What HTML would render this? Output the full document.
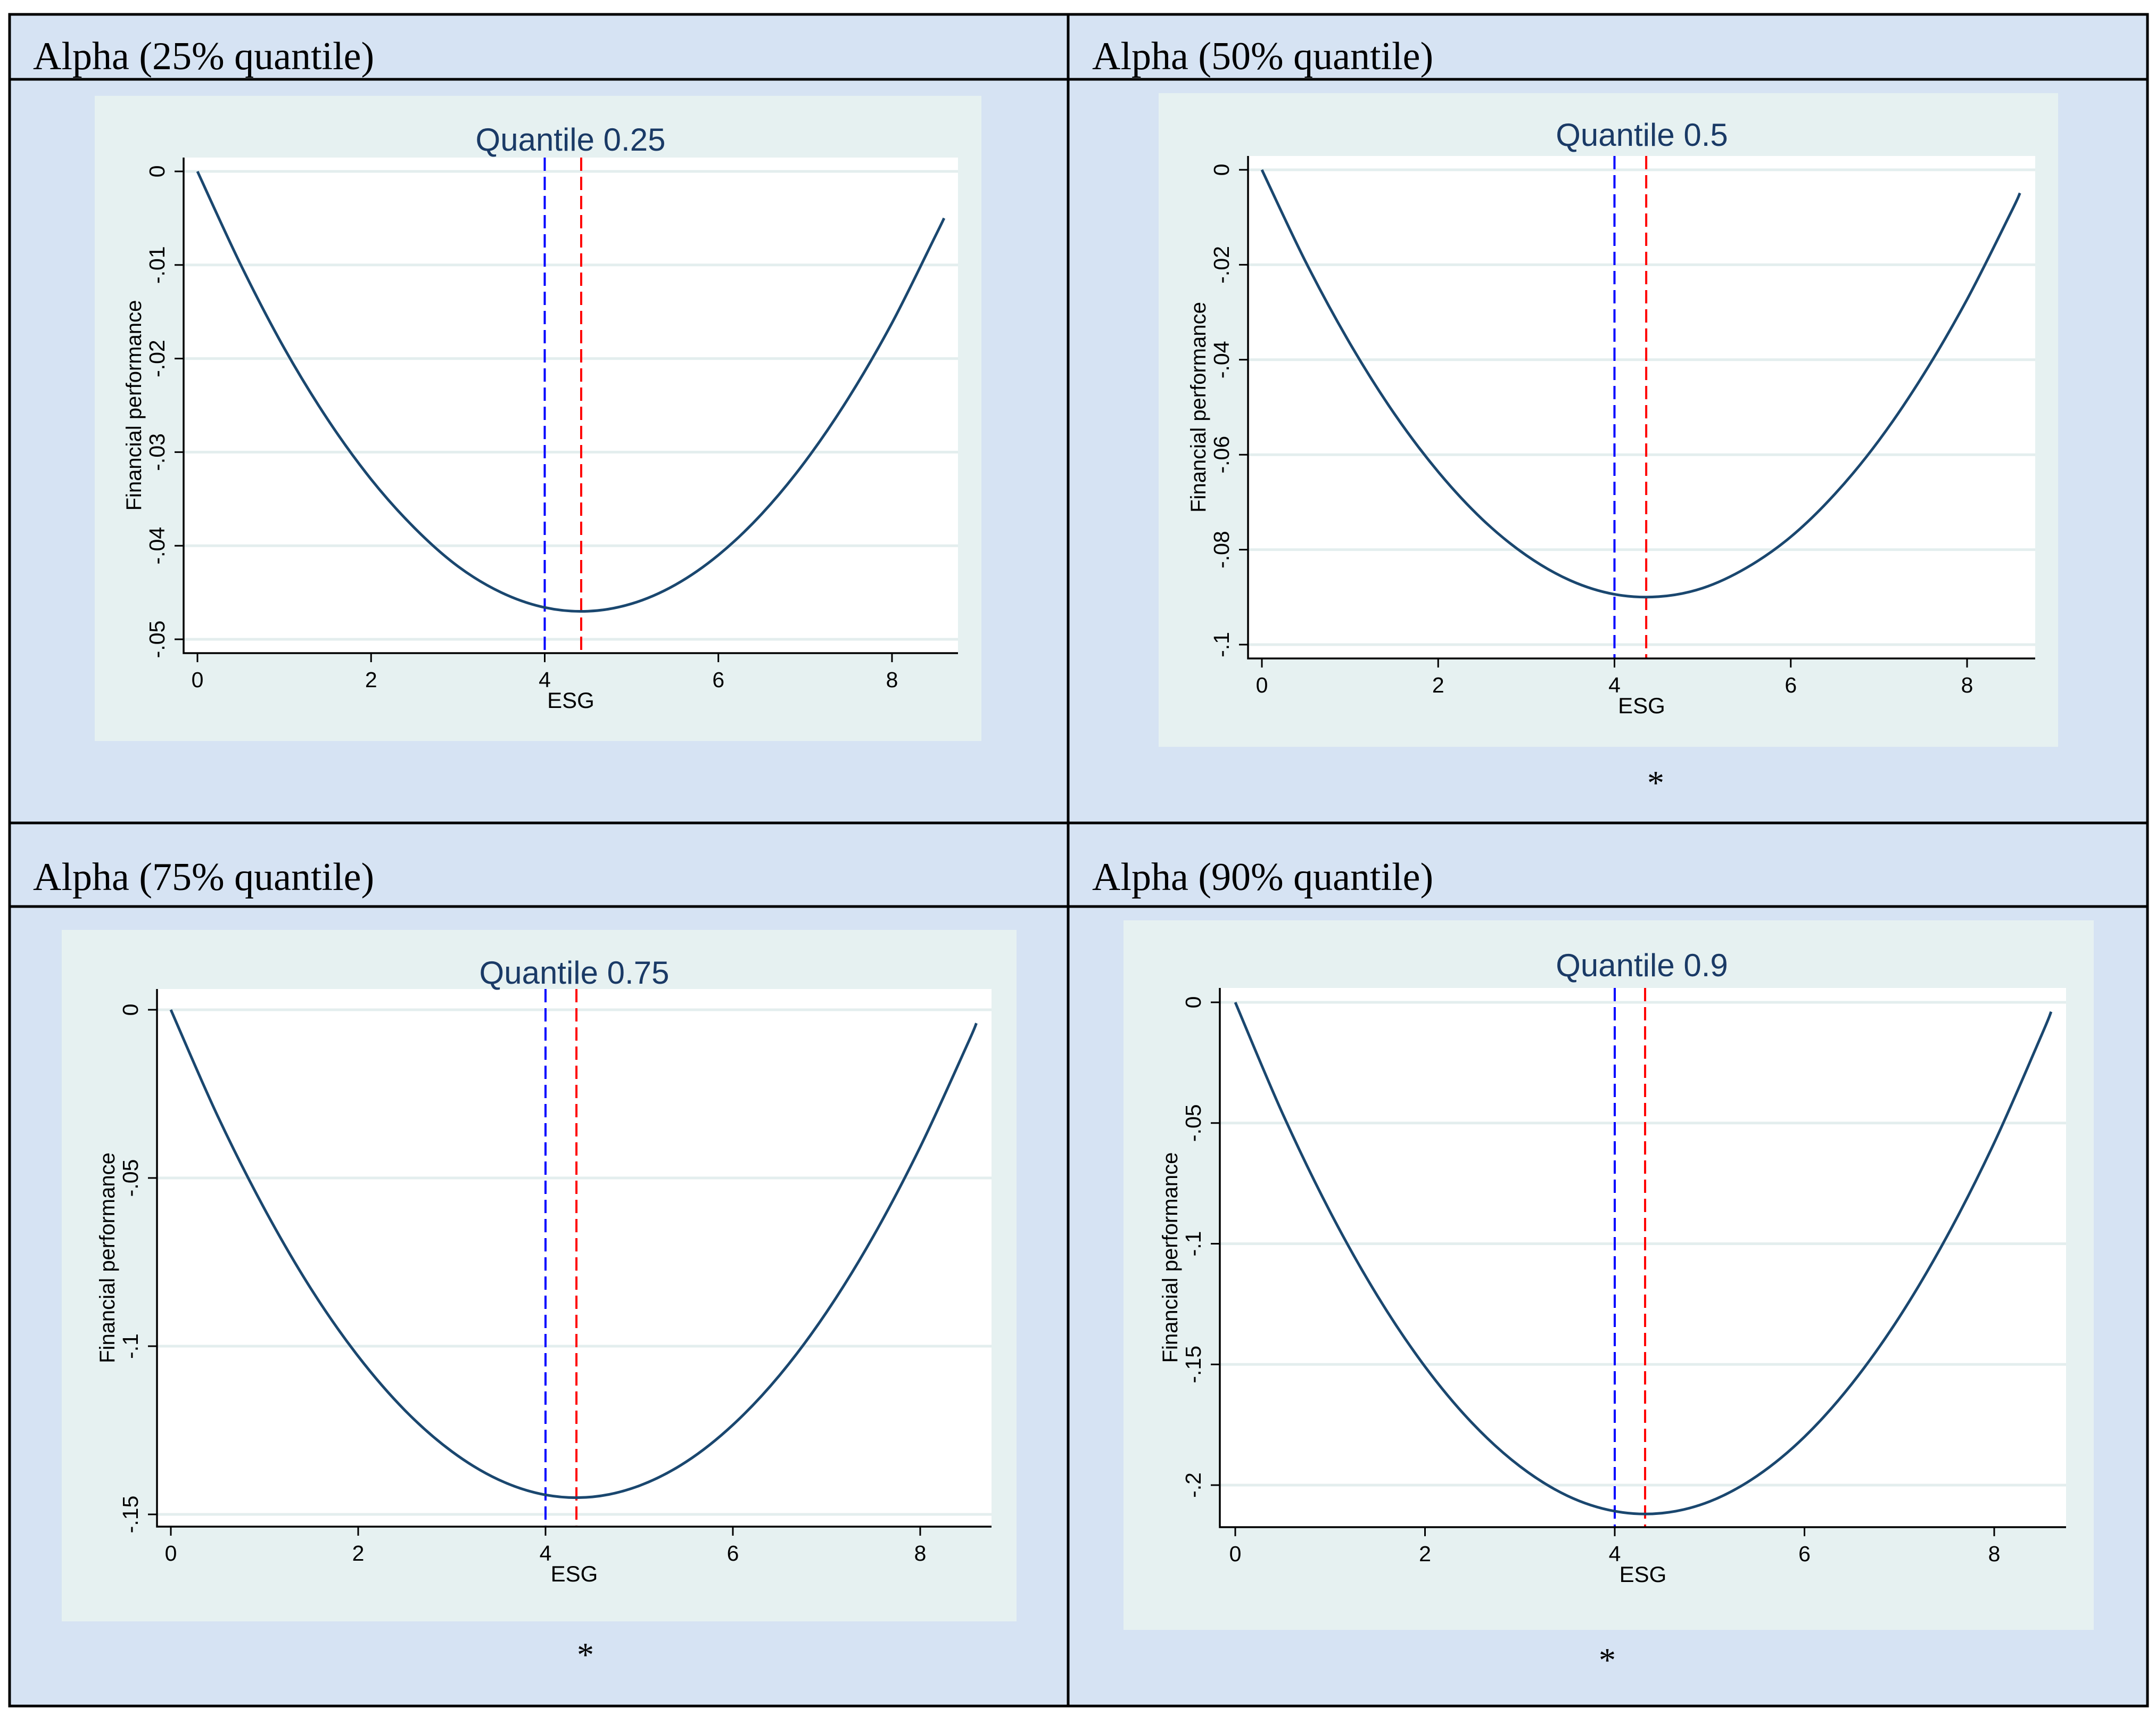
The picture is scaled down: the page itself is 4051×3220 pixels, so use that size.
<!DOCTYPE html>
<html><head><meta charset="utf-8"><style>
html,body{margin:0;padding:0;background:#fff}
svg{display:block}
</style></head><body>
<svg id="fig" width="4051" height="3220" viewBox="0 0 4051 3220" xmlns="http://www.w3.org/2000/svg">
<rect x="18" y="27" width="4017" height="3178" fill="#d6e3f3"/>
<g id="panels"></g>
<g stroke="#000" stroke-width="5" fill="none">
<rect x="18" y="27" width="4017" height="3178"/>
<line x1="18" y1="149" x2="4035" y2="149"/>
<line x1="18" y1="1546" x2="4035" y2="1546"/>
<line x1="18" y1="1703" x2="4035" y2="1703"/>
<line x1="2007" y1="27" x2="2007" y2="3205"/>
</g>
<g font-family="Liberation Serif, serif" font-size="74" fill="#000">
<text x="62" y="130">Alpha (25% quantile)</text>
<text x="2052" y="130">Alpha (50% quantile)</text>
<text x="62" y="1672">Alpha (75% quantile)</text>
<text x="2052" y="1672">Alpha (90% quantile)</text>
</g>
</svg>
<script>
const esgValues = [0,0.5,1,1.5,2,2.5,3,3.5,4,4.5,5,5.5,6,6.5,7,7.5,8,8.5,8.6];
const perfQ25 = [0,-.0100,-.0189,-.0265,-.0329,-.0381,-.0422,-.0450,-.0466,-.0470,-.0462,-.0442,-.0410,-.0366,-.0310,-.0242,-.0162,-.0069,-.0050];
const perfQ50 = [0,-.0195,-.0366,-.0513,-.0636,-.0736,-.0812,-.0865,-.0894,-.0899,-.0881,-.0838,-.0773,-.0683,-.0570,-.0433,-.0273,-.0089,-.0049];
const perfQ75 = [0,-.0316,-.0592,-.0831,-.1030,-.1191,-.1313,-.1397,-.1442,-.1448,-.1415,-.1344,-.1234,-.1086,-.0899,-.0673,-.0408,-.0105,-.0040];
const perfQ90 = [0,-.0462,-.0868,-.1217,-.1509,-.1744,-.1922,-.2044,-.2108,-.2116,-.2068,-.1962,-.1800,-.1580,-.1304,-.0971,-.0582,-.0135,-.0039];
const xTicks = [0,2,4,6,8];
const yTicksQ25 = [0,-.01,-.02,-.03,-.04,-.05];
const yLabelsQ25 = ["0","-.01","-.02","-.03","-.04","-.05"];
const yTicksQ50 = [0,-.02,-.04,-.06,-.08,-.1];
const yLabelsQ50 = ["0","-.02","-.04","-.06","-.08","-.1"];
const yTicksQ75 = [0,-.05,-.1,-.15];
const yLabelsQ75 = ["0","-.05","-.1","-.15"];
const yTicksQ90 = [0,-.05,-.1,-.15,-.2];
const yLabelsQ90 = ["0","-.05","-.1","-.15","-.2"];
const blueLineX = [4,4,4,4];
const redLineX = [4.42,4.36,4.33,4.32];
const titles = ["Quantile 0.25","Quantile 0.5","Quantile 0.75","Quantile 0.9"];

const layouts = [
 {bg:[178,180,1666,1212],pl:345,pt:296,pr:1800,pb:1227,x0:371,x8:1676,y0:322,yref:-.05,yrefPx:1201,tx:1072,ty:262,star:null},
 {bg:[2177,175,1690,1228],pl:2345,pt:293,pr:3824,pb:1237,x0:2371,x8:3696,y0:319,yref:-.1,yrefPx:1211,tx:3085,ty:253,star:[3111,1462]},
 {bg:[116,1747,1794,1299],pl:295,pt:1858,pr:1863,pb:2868,x0:321,x8:1729,y0:1897,yref:-.15,yrefPx:2845,tx:1079,ty:1827,star:[1100,3100]},
 {bg:[2111,1729,1823,1333],pl:2292,pt:1856,pr:3882,pb:2869,x0:2321,x8:3747,y0:1883,yref:-.2,yrefPx:2790,tx:3085,ty:1813,star:[3020,3110]}
];
const series = [perfQ25,perfQ50,perfQ75,perfQ90];
const yTickSets = [yTicksQ25,yTicksQ50,yTicksQ75,yTicksQ90];
const yLabelSets = [yLabelsQ25,yLabelsQ50,yLabelsQ75,yLabelsQ90];
const NS = "http://www.w3.org/2000/svg";
const root = document.getElementById('panels');
function mk(tag, attrs, parent){const e=document.createElementNS(NS,tag);for(const k in attrs)e.setAttribute(k,attrs[k]);parent.appendChild(e);return e;}

layouts.forEach((L,i)=>{
  const g = mk('g',{},root);
  
  
  const xs = v => L.x0 + (L.x8-L.x0)*v/8;
  const ys = v => L.y0 + (L.yrefPx-L.y0)*v/L.yref;
  const bg = mk('rect',{x:L.bg[0],y:L.bg[1],width:L.bg[2],height:L.bg[3],fill:'#e6f1f1'},g);
  
  
  const pa = mk('rect',{x:L.pl,y:L.pt,width:L.pr-L.pl,height:L.pb-L.pt,fill:'#fff'},g);
  
  
  yTickSets[i].forEach((t,j)=>{
    const y = ys(t);
    const gl = mk('line',{x1:L.pl,x2:L.pr,y1:y,y2:y,stroke:'#e3eeee','stroke-width':5},g);
    
    
    const tk = mk('line',{x1:L.pl-17,x2:L.pl,y1:y,y2:y,stroke:'#000','stroke-width':3},g);
    
    
    const lb = mk('text',{x:0,y:0,transform:`translate(${L.pl-36},${y}) rotate(-90)`,'text-anchor':'middle','font-family':'Liberation Sans, sans-serif','font-size':41,fill:'#000'},g);
    lb.textContent = yLabelSets[i][j];
    
    
  });
  xTicks.forEach(t=>{
    const x = xs(t);
    const tk = mk('line',{x1:x,x2:x,y1:L.pb,y2:L.pb+17,stroke:'#000','stroke-width':3},g);
    
    
    const lb = mk('text',{x:x,y:L.pb+64,'text-anchor':'middle','font-family':'Liberation Sans, sans-serif','font-size':41,fill:'#000'},g);
    lb.textContent = String(t);
    
    
  });
  const vb = mk('line',{x1:xs(blueLineX[i]),x2:xs(blueLineX[i]),y1:L.pt,y2:L.pb,stroke:'#0000ff','stroke-width':4,'stroke-dasharray':'25 11'},g);
  
  
  const vr = mk('line',{x1:xs(redLineX[i]),x2:xs(redLineX[i]),y1:L.pt,y2:L.pb,stroke:'#ff0000','stroke-width':4,'stroke-dasharray':'25 11'},g);
  
  
  const P = esgValues.map((v,k)=>[xs(v),ys(series[i][k])]);
  let d = `M${P[0][0]},${P[0][1]}`;
  for(let k=0;k<P.length-1;k++){
    const p0=P[Math.max(k-1,0)],p1=P[k],p2=P[k+1],p3=P[Math.min(k+2,P.length-1)];
    const c1=[p1[0]+(p2[0]-p0[0])/6,p1[1]+(p2[1]-p0[1])/6];
    const c2=[p2[0]-(p3[0]-p1[0])/6,p2[1]-(p3[1]-p1[1])/6];
    d+=` C${c1[0]},${c1[1]} ${c2[0]},${c2[1]} ${p2[0]},${p2[1]}`;
  }
  const cv = mk('path',{d:d,fill:'none',stroke:'#1a476f','stroke-width':5},g);
  
  
  const ax = mk('path',{d:`M${L.pl},${L.pt} V${L.pb} H${L.pr}`,fill:'none',stroke:'#000','stroke-width':3.5},g);
  
  
  const ti = mk('text',{x:L.tx,y:L.ty+21,'text-anchor':'middle','font-family':'Liberation Sans, sans-serif','font-size':60,fill:'#1a3a66'},g);
  ti.textContent = titles[i];
  
  
  const xt = mk('text',{x:(L.pl+L.pr)/2,y:L.pb+103,'text-anchor':'middle','font-family':'Liberation Sans, sans-serif','font-size':42,fill:'#000'},g);
  xt.textContent = 'ESG';
  
  
  const yt = mk('text',{x:0,y:0,transform:`translate(${L.pl-80},${(L.pt+L.pb)/2}) rotate(-90)`,'text-anchor':'middle','font-family':'Liberation Sans, sans-serif','font-size':40,fill:'#000'},g);
  yt.textContent = 'Financial performance';
  
  
  if(L.star){
    const st = mk('text',{x:L.star[0],y:L.star[1]+30,'text-anchor':'middle','font-family':'Liberation Serif, serif','font-size':64,fill:'#000'},g);
    st.textContent = '*';
    
    
  }
});
</script>
</body></html>
